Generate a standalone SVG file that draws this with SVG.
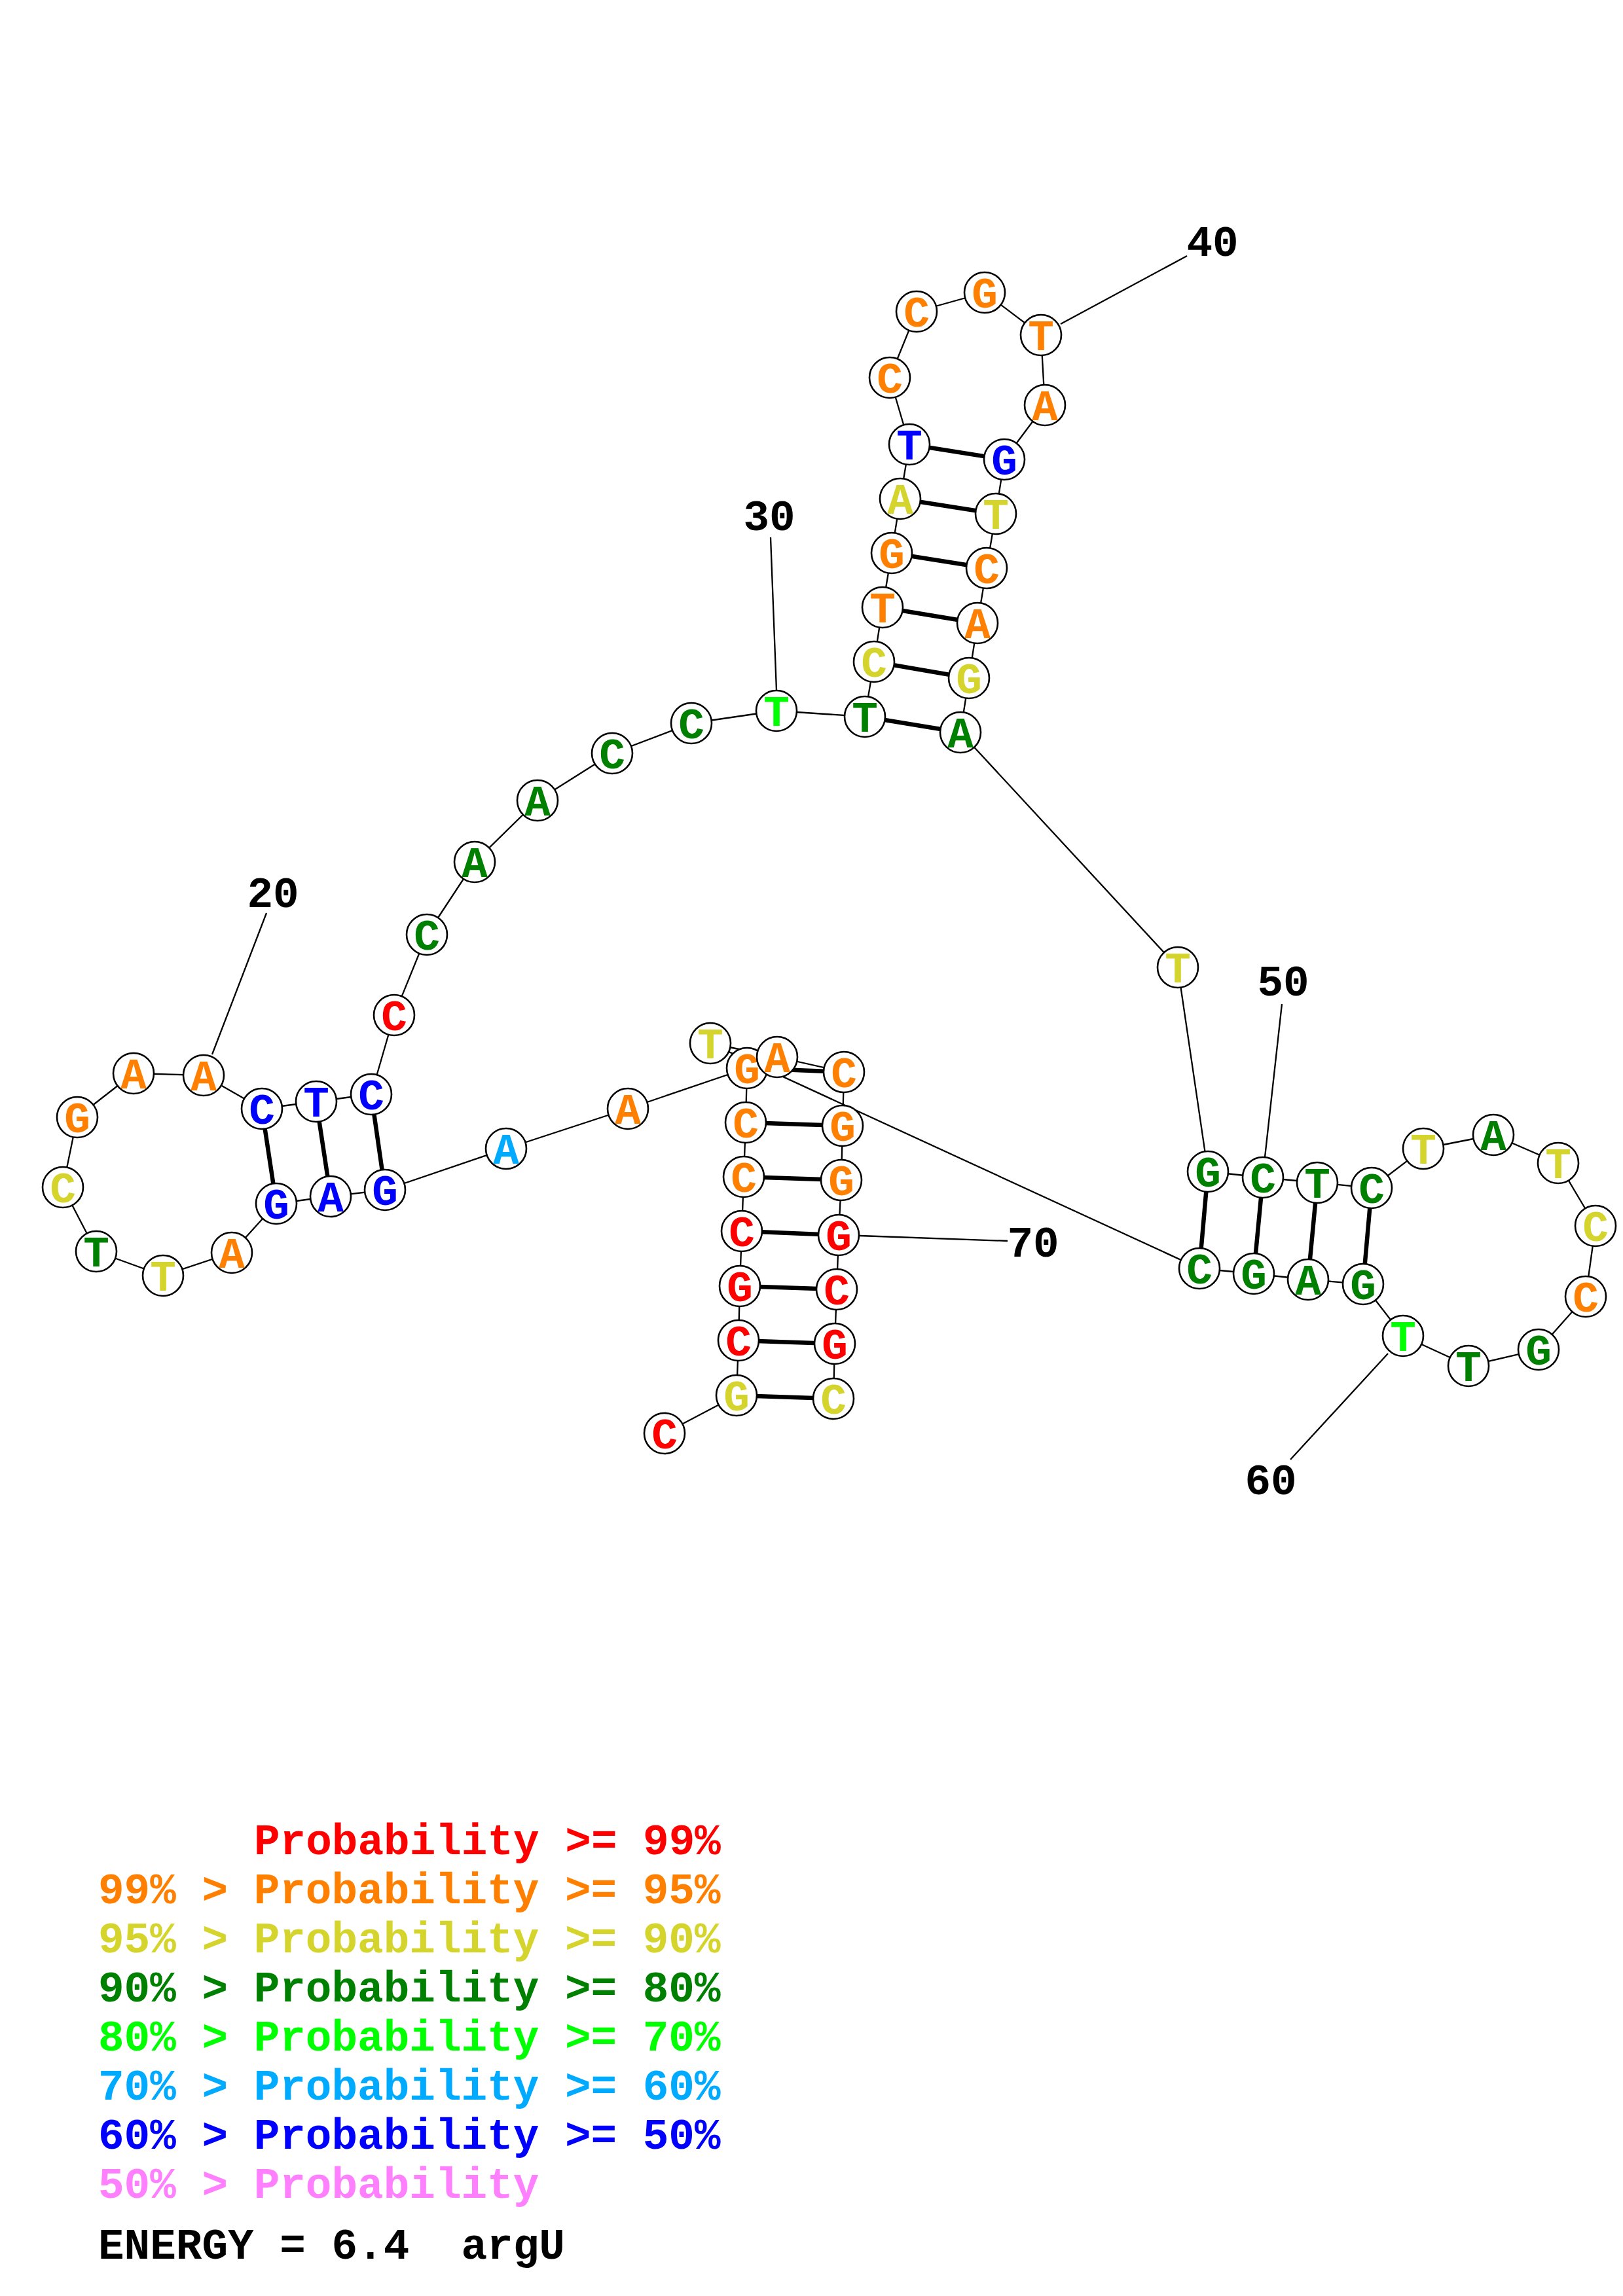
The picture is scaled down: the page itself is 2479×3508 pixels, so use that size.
<svg xmlns="http://www.w3.org/2000/svg" width="2479" height="3508" viewBox="0 0 2479 3508">
<style>
text{font-family:"Nimbus Mono PS","Courier New","Liberation Mono",monospace;font-weight:bold;font-size:66px;white-space:pre}
.n text{text-anchor:middle}
.n circle{fill:#fff;stroke:#000;stroke-width:2.6}
.bb line{stroke:#000;stroke-width:2.3}
.bp line{stroke:#000;stroke-width:6.5}
.lb line{stroke:#000;stroke-width:2.3}
.lbl{fill:#000;text-anchor:middle}
.r{fill:#FF0000}.o{fill:#FF8000}.y{fill:#D4D42C}.g{fill:#008000}.b{fill:#00FF00}.s{fill:#00AAFF}.u{fill:#0000FF}.p{fill:#FF80FF}.k{fill:#000}
</style>
<rect width="2479" height="3508" fill="#fff"/>
<g id="connectors">
<g class="bb">
<line x1="1015" y1="2190" x2="1125" y2="2132"/>
<line x1="1125" y1="2132" x2="1128" y2="2048"/>
<line x1="1128" y1="2048" x2="1130" y2="1965"/>
<line x1="1130" y1="1965" x2="1133" y2="1881"/>
<line x1="1133" y1="1881" x2="1136" y2="1798"/>
<line x1="1136" y1="1798" x2="1139" y2="1715"/>
<line x1="1139" y1="1715" x2="1141" y2="1632"/>
<line x1="1141" y1="1632" x2="959" y2="1694"/>
<line x1="959" y1="1694" x2="773" y2="1755"/>
<line x1="773" y1="1755" x2="588" y2="1818"/>
<line x1="588" y1="1818" x2="505" y2="1828"/>
<line x1="505" y1="1828" x2="422" y2="1839"/>
<line x1="422" y1="1839" x2="354" y2="1914"/>
<line x1="354" y1="1914" x2="249" y2="1949"/>
<line x1="249" y1="1949" x2="147" y2="1912"/>
<line x1="147" y1="1912" x2="96" y2="1814"/>
<line x1="96" y1="1814" x2="118" y2="1707"/>
<line x1="118" y1="1707" x2="204" y2="1640"/>
<line x1="204" y1="1640" x2="311" y2="1643"/>
<line x1="311" y1="1643" x2="400" y2="1694"/>
<line x1="400" y1="1694" x2="483" y2="1683"/>
<line x1="483" y1="1683" x2="567" y2="1672"/>
<line x1="567" y1="1672" x2="602" y2="1551"/>
<line x1="602" y1="1551" x2="652" y2="1428"/>
<line x1="652" y1="1428" x2="725" y2="1317"/>
<line x1="725" y1="1317" x2="821" y2="1223"/>
<line x1="821" y1="1223" x2="935" y2="1151"/>
<line x1="935" y1="1151" x2="1056" y2="1105"/>
<line x1="1056" y1="1105" x2="1186" y2="1086"/>
<line x1="1186" y1="1086" x2="1321" y2="1095"/>
<line x1="1321" y1="1095" x2="1335" y2="1011"/>
<line x1="1335" y1="1011" x2="1348" y2="928"/>
<line x1="1348" y1="928" x2="1362" y2="845"/>
<line x1="1362" y1="845" x2="1375" y2="762"/>
<line x1="1375" y1="762" x2="1389" y2="679"/>
<line x1="1389" y1="679" x2="1359" y2="577"/>
<line x1="1359" y1="577" x2="1400" y2="476"/>
<line x1="1400" y1="476" x2="1504" y2="447"/>
<line x1="1504" y1="447" x2="1590" y2="512"/>
<line x1="1590" y1="512" x2="1596" y2="619"/>
<line x1="1596" y1="619" x2="1534" y2="702"/>
<line x1="1534" y1="702" x2="1521" y2="785"/>
<line x1="1521" y1="785" x2="1507" y2="868"/>
<line x1="1507" y1="868" x2="1493" y2="952"/>
<line x1="1493" y1="952" x2="1480" y2="1036"/>
<line x1="1480" y1="1036" x2="1467" y2="1119"/>
<line x1="1467" y1="1119" x2="1799" y2="1478"/>
<line x1="1799" y1="1478" x2="1845" y2="1790"/>
<line x1="1845" y1="1790" x2="1929" y2="1799"/>
<line x1="1929" y1="1799" x2="2012" y2="1807"/>
<line x1="2012" y1="1807" x2="2095" y2="1815"/>
<line x1="2095" y1="1815" x2="2174" y2="1755"/>
<line x1="2174" y1="1755" x2="2281" y2="1734"/>
<line x1="2281" y1="1734" x2="2380" y2="1777"/>
<line x1="2380" y1="1777" x2="2437" y2="1873"/>
<line x1="2437" y1="1873" x2="2422" y2="1981"/>
<line x1="2422" y1="1981" x2="2350" y2="2062"/>
<line x1="2350" y1="2062" x2="2243" y2="2087"/>
<line x1="2243" y1="2087" x2="2143" y2="2041"/>
<line x1="2143" y1="2041" x2="2082" y2="1962"/>
<line x1="2082" y1="1962" x2="1998" y2="1955"/>
<line x1="1998" y1="1955" x2="1915" y2="1946"/>
<line x1="1915" y1="1946" x2="1832" y2="1938"/>
<line x1="1832" y1="1938" x2="1085" y2="1594"/>
<line x1="1085" y1="1594" x2="1187" y2="1615"/>
<line x1="1187" y1="1615" x2="1289" y2="1638"/>
<line x1="1289" y1="1638" x2="1287" y2="1720"/>
<line x1="1287" y1="1720" x2="1285" y2="1803"/>
<line x1="1285" y1="1803" x2="1281" y2="1887"/>
<line x1="1281" y1="1887" x2="1278" y2="1970"/>
<line x1="1278" y1="1970" x2="1275" y2="2053"/>
<line x1="1275" y1="2053" x2="1273" y2="2137"/>
</g>
<g class="bp">
<line x1="1125" y1="2132" x2="1273" y2="2137"/>
<line x1="1128" y1="2048" x2="1275" y2="2053"/>
<line x1="1130" y1="1965" x2="1278" y2="1970"/>
<line x1="1133" y1="1881" x2="1281" y2="1887"/>
<line x1="1136" y1="1798" x2="1285" y2="1803"/>
<line x1="1139" y1="1715" x2="1287" y2="1720"/>
<line x1="1141" y1="1632" x2="1289" y2="1638"/>
<line x1="588" y1="1818" x2="567" y2="1672"/>
<line x1="505" y1="1828" x2="483" y2="1683"/>
<line x1="422" y1="1839" x2="400" y2="1694"/>
<line x1="1321" y1="1095" x2="1467" y2="1119"/>
<line x1="1335" y1="1011" x2="1480" y2="1036"/>
<line x1="1348" y1="928" x2="1493" y2="952"/>
<line x1="1362" y1="845" x2="1507" y2="868"/>
<line x1="1375" y1="762" x2="1521" y2="785"/>
<line x1="1389" y1="679" x2="1534" y2="702"/>
<line x1="1845" y1="1790" x2="1832" y2="1938"/>
<line x1="1929" y1="1799" x2="1915" y2="1946"/>
<line x1="2012" y1="1807" x2="1998" y2="1955"/>
<line x1="2095" y1="1815" x2="2082" y2="1962"/>
</g>
<g class="lb">
<line x1="324" y1="1611" x2="407" y2="1395"/>
<line x1="1186" y1="1055" x2="1177" y2="821"/>
<line x1="1620" y1="495" x2="1813" y2="391"/>
<line x1="1932" y1="1768" x2="1958" y2="1534"/>
<line x1="2120" y1="2068" x2="1971" y2="2230"/>
<line x1="1313" y1="1888" x2="1539" y2="1896"/>
</g>
</g>
<g id="labels">
<text class="lbl" x="417" y="1386">20</text>
<text class="lbl" x="1175" y="810">30</text>
<text class="lbl" x="1852" y="391">40</text>
<text class="lbl" x="1960" y="1521">50</text>
<text class="lbl" x="1941" y="2283">60</text>
<text class="lbl" x="1578" y="1920">70</text>
</g>
<g id="nodes">
<g id="n1" class="n"><circle cx="1015" cy="2190" r="31"/><text class="r" x="1015" y="2213">C</text></g>
<g id="n2" class="n"><circle cx="1125" cy="2132" r="31"/><text class="y" x="1125" y="2155">G</text></g>
<g id="n3" class="n"><circle cx="1128" cy="2048" r="31"/><text class="r" x="1128" y="2071">C</text></g>
<g id="n4" class="n"><circle cx="1130" cy="1965" r="31"/><text class="r" x="1130" y="1988">G</text></g>
<g id="n5" class="n"><circle cx="1133" cy="1881" r="31"/><text class="r" x="1133" y="1904">C</text></g>
<g id="n6" class="n"><circle cx="1136" cy="1798" r="31"/><text class="o" x="1136" y="1821">C</text></g>
<g id="n7" class="n"><circle cx="1139" cy="1715" r="31"/><text class="o" x="1139" y="1738">C</text></g>
<g id="n8" class="n"><circle cx="1141" cy="1632" r="31"/><text class="o" x="1141" y="1655">G</text></g>
<g id="n9" class="n"><circle cx="959" cy="1694" r="31"/><text class="o" x="959" y="1717">A</text></g>
<g id="n10" class="n"><circle cx="773" cy="1755" r="31"/><text class="s" x="773" y="1778">A</text></g>
<g id="n11" class="n"><circle cx="588" cy="1818" r="31"/><text class="u" x="588" y="1841">G</text></g>
<g id="n12" class="n"><circle cx="505" cy="1828" r="31"/><text class="u" x="505" y="1851">A</text></g>
<g id="n13" class="n"><circle cx="422" cy="1839" r="31"/><text class="u" x="422" y="1862">G</text></g>
<g id="n14" class="n"><circle cx="354" cy="1914" r="31"/><text class="o" x="354" y="1937">A</text></g>
<g id="n15" class="n"><circle cx="249" cy="1949" r="31"/><text class="y" x="249" y="1972">T</text></g>
<g id="n16" class="n"><circle cx="147" cy="1912" r="31"/><text class="g" x="147" y="1935">T</text></g>
<g id="n17" class="n"><circle cx="96" cy="1814" r="31"/><text class="y" x="96" y="1837">C</text></g>
<g id="n18" class="n"><circle cx="118" cy="1707" r="31"/><text class="o" x="118" y="1730">G</text></g>
<g id="n19" class="n"><circle cx="204" cy="1640" r="31"/><text class="o" x="204" y="1663">A</text></g>
<g id="n20" class="n"><circle cx="311" cy="1643" r="31"/><text class="o" x="311" y="1666">A</text></g>
<g id="n21" class="n"><circle cx="400" cy="1694" r="31"/><text class="u" x="400" y="1717">C</text></g>
<g id="n22" class="n"><circle cx="483" cy="1683" r="31"/><text class="u" x="483" y="1706">T</text></g>
<g id="n23" class="n"><circle cx="567" cy="1672" r="31"/><text class="u" x="567" y="1695">C</text></g>
<g id="n24" class="n"><circle cx="602" cy="1551" r="31"/><text class="r" x="602" y="1574">C</text></g>
<g id="n25" class="n"><circle cx="652" cy="1428" r="31"/><text class="g" x="652" y="1451">C</text></g>
<g id="n26" class="n"><circle cx="725" cy="1317" r="31"/><text class="g" x="725" y="1340">A</text></g>
<g id="n27" class="n"><circle cx="821" cy="1223" r="31"/><text class="g" x="821" y="1246">A</text></g>
<g id="n28" class="n"><circle cx="935" cy="1151" r="31"/><text class="g" x="935" y="1174">C</text></g>
<g id="n29" class="n"><circle cx="1056" cy="1105" r="31"/><text class="g" x="1056" y="1128">C</text></g>
<g id="n30" class="n"><circle cx="1186" cy="1086" r="31"/><text class="b" x="1186" y="1109">T</text></g>
<g id="n31" class="n"><circle cx="1321" cy="1095" r="31"/><text class="g" x="1321" y="1118">T</text></g>
<g id="n32" class="n"><circle cx="1335" cy="1011" r="31"/><text class="y" x="1335" y="1034">C</text></g>
<g id="n33" class="n"><circle cx="1348" cy="928" r="31"/><text class="o" x="1348" y="951">T</text></g>
<g id="n34" class="n"><circle cx="1362" cy="845" r="31"/><text class="o" x="1362" y="868">G</text></g>
<g id="n35" class="n"><circle cx="1375" cy="762" r="31"/><text class="y" x="1375" y="785">A</text></g>
<g id="n36" class="n"><circle cx="1389" cy="679" r="31"/><text class="u" x="1389" y="702">T</text></g>
<g id="n37" class="n"><circle cx="1359" cy="577" r="31"/><text class="o" x="1359" y="600">C</text></g>
<g id="n38" class="n"><circle cx="1400" cy="476" r="31"/><text class="o" x="1400" y="499">C</text></g>
<g id="n39" class="n"><circle cx="1504" cy="447" r="31"/><text class="o" x="1504" y="470">G</text></g>
<g id="n40" class="n"><circle cx="1590" cy="512" r="31"/><text class="o" x="1590" y="535">T</text></g>
<g id="n41" class="n"><circle cx="1596" cy="619" r="31"/><text class="o" x="1596" y="642">A</text></g>
<g id="n42" class="n"><circle cx="1534" cy="702" r="31"/><text class="u" x="1534" y="725">G</text></g>
<g id="n43" class="n"><circle cx="1521" cy="785" r="31"/><text class="y" x="1521" y="808">T</text></g>
<g id="n44" class="n"><circle cx="1507" cy="868" r="31"/><text class="o" x="1507" y="891">C</text></g>
<g id="n45" class="n"><circle cx="1493" cy="952" r="31"/><text class="o" x="1493" y="975">A</text></g>
<g id="n46" class="n"><circle cx="1480" cy="1036" r="31"/><text class="y" x="1480" y="1059">G</text></g>
<g id="n47" class="n"><circle cx="1467" cy="1119" r="31"/><text class="g" x="1467" y="1142">A</text></g>
<g id="n48" class="n"><circle cx="1799" cy="1478" r="31"/><text class="y" x="1799" y="1501">T</text></g>
<g id="n49" class="n"><circle cx="1845" cy="1790" r="31"/><text class="g" x="1845" y="1813">G</text></g>
<g id="n50" class="n"><circle cx="1929" cy="1799" r="31"/><text class="g" x="1929" y="1822">C</text></g>
<g id="n51" class="n"><circle cx="2012" cy="1807" r="31"/><text class="g" x="2012" y="1830">T</text></g>
<g id="n52" class="n"><circle cx="2095" cy="1815" r="31"/><text class="g" x="2095" y="1838">C</text></g>
<g id="n53" class="n"><circle cx="2174" cy="1755" r="31"/><text class="y" x="2174" y="1778">T</text></g>
<g id="n54" class="n"><circle cx="2281" cy="1734" r="31"/><text class="g" x="2281" y="1757">A</text></g>
<g id="n55" class="n"><circle cx="2380" cy="1777" r="31"/><text class="y" x="2380" y="1800">T</text></g>
<g id="n56" class="n"><circle cx="2437" cy="1873" r="31"/><text class="y" x="2437" y="1896">C</text></g>
<g id="n57" class="n"><circle cx="2422" cy="1981" r="31"/><text class="o" x="2422" y="2004">C</text></g>
<g id="n58" class="n"><circle cx="2350" cy="2062" r="31"/><text class="g" x="2350" y="2085">G</text></g>
<g id="n59" class="n"><circle cx="2243" cy="2087" r="31"/><text class="g" x="2243" y="2110">T</text></g>
<g id="n60" class="n"><circle cx="2143" cy="2041" r="31"/><text class="b" x="2143" y="2064">T</text></g>
<g id="n61" class="n"><circle cx="2082" cy="1962" r="31"/><text class="g" x="2082" y="1985">G</text></g>
<g id="n62" class="n"><circle cx="1998" cy="1955" r="31"/><text class="g" x="1998" y="1978">A</text></g>
<g id="n63" class="n"><circle cx="1915" cy="1946" r="31"/><text class="g" x="1915" y="1969">G</text></g>
<g id="n64" class="n"><circle cx="1832" cy="1938" r="31"/><text class="g" x="1832" y="1961">C</text></g>
<g id="n65" class="n"><circle cx="1085" cy="1594" r="31"/><text class="y" x="1085" y="1617">T</text></g>
<g id="n66" class="n"><circle cx="1187" cy="1615" r="31"/><text class="o" x="1187" y="1638">A</text></g>
<g id="n67" class="n"><circle cx="1289" cy="1638" r="31"/><text class="o" x="1289" y="1661">C</text></g>
<g id="n68" class="n"><circle cx="1287" cy="1720" r="31"/><text class="o" x="1287" y="1743">G</text></g>
<g id="n69" class="n"><circle cx="1285" cy="1803" r="31"/><text class="o" x="1285" y="1826">G</text></g>
<g id="n70" class="n"><circle cx="1281" cy="1887" r="31"/><text class="r" x="1281" y="1910">G</text></g>
<g id="n71" class="n"><circle cx="1278" cy="1970" r="31"/><text class="r" x="1278" y="1993">C</text></g>
<g id="n72" class="n"><circle cx="1275" cy="2053" r="31"/><text class="r" x="1275" y="2076">G</text></g>
<g id="n73" class="n"><circle cx="1273" cy="2137" r="31"/><text class="y" x="1273" y="2160">C</text></g>
</g>
<g id="legend">
<text class="r" x="388" y="2833">Probability &gt;= 99%</text>
<text class="o" x="150" y="2908">99% &gt; Probability &gt;= 95%</text>
<text class="y" x="150" y="2983">95% &gt; Probability &gt;= 90%</text>
<text class="g" x="150" y="3058">90% &gt; Probability &gt;= 80%</text>
<text class="b" x="150" y="3133">80% &gt; Probability &gt;= 70%</text>
<text class="s" x="150" y="3208">70% &gt; Probability &gt;= 60%</text>
<text class="u" x="150" y="3283">60% &gt; Probability &gt;= 50%</text>
<text class="p" x="150" y="3358">50% &gt; Probability</text>
<text class="k" x="150" y="3451">ENERGY = 6.4  argU</text>
</g>
</svg>
